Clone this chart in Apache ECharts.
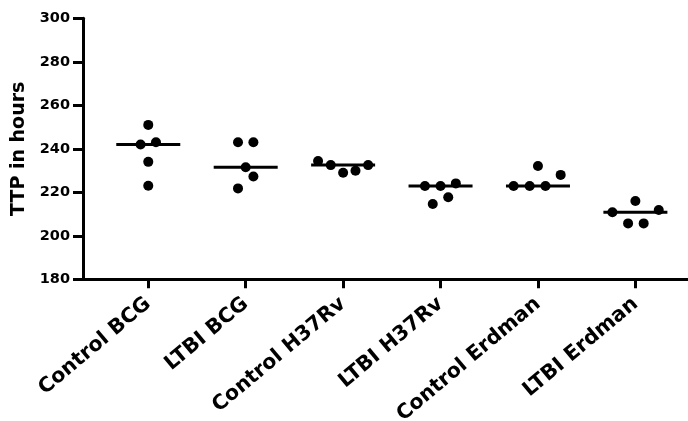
<!DOCTYPE html>
<html><head><meta charset="utf-8">
<script src="https://cdn.jsdelivr.net/npm/echarts@6/dist/echarts.min.js"></script>
<style>html,body{margin:0;padding:0;background:#fff}#c{width:688px;height:421px}</style>
</head><body><div id="c"></div>
<script>
const categories = ['Control BCG', 'LTBI BCG', 'Control H37Rv', 'LTBI H37Rv', 'Control Erdman', 'LTBI Erdman'];
const controlBCG = [251, 242, 243, 234, 223];
const ltbiBCG = [243, 243, 231.5, 227.3, 221.8];
const controlH37Rv = [234.4, 232.5, 229, 229.9, 232.5];
const ltbiH37Rv = [222.9, 222.9, 224.1, 214.6, 217.7];
const controlErdman = [222.9, 222.9, 222.9, 232.1, 228];
const ltbiErdman = [210.8, 216, 211.9, 205.7, 205.7];
const medians = [242, 231.5, 232.5, 222.9, 222.9, 210.8];
const yTicks = [180, 200, 220, 240, 260, 280, 300];
// horizontal scatter of each dot within its column (fraction of a column step)
const jitterControlBCG = [0, -0.079, 0.079, 0, 0];
const jitterLtbiBCG = [-0.079, 0.079, 0, 0.079, -0.079];
const jitterControlH37Rv = [-0.257, -0.127, 0, 0.127, 0.257];
const jitterLtbiH37Rv = [-0.16, 0, 0.157, -0.08, 0.079];
const jitterControlErdman = [-0.25, -0.085, 0.077, 0, 0.233];
const jitterLtbiErdman = [-0.236, 0, 0.24, -0.075, 0.085];

const groups = [controlBCG, ltbiBCG, controlH37Rv, ltbiH37Rv, controlErdman, ltbiErdman];
const jitters = [jitterControlBCG, jitterLtbiBCG, jitterControlH37Rv, jitterLtbiH37Rv, jitterControlErdman, jitterLtbiErdman];
const dots = [];
groups.forEach((vals, i) => vals.forEach((v, j) => dots.push([i + 1 + jitters[i][j], v])));
const medianData = medians.map((m, i) => [i + 1, m]);
const positions = categories.map((_, i) => i + 1);

const font = 'DejaVu Sans';
const chart = echarts.init(document.getElementById('c'), null, {renderer: 'canvas'});
chart.setOption({
  animation: false,
  backgroundColor: '#fff',
  grid: {left: 83, top: 18.3, right: 0, bottom: 141.7, containLabel: false, outerBoundsMode: 'none'},
  xAxis: {
    type: 'value', min: 0.33, max: 6.54,
    axisLine: {show: true, lineStyle: {color: '#000', width: 3}},
    axisTick: {show: true, customValues: positions, length: 9, lineStyle: {color: '#000', width: 3}},
    axisLabel: {
      customValues: positions, rotate: 40, margin: 22,
      formatter: v => categories[Math.round(v) - 1],
      color: '#000', fontFamily: font, fontWeight: 'bold', fontSize: 20.5
    },
    splitLine: {show: false}
  },
  yAxis: {
    type: 'value', min: yTicks[0], max: yTicks[yTicks.length - 1], interval: yTicks[1] - yTicks[0],
    name: 'TTP in hours', nameLocation: 'middle', nameGap: 43,
    nameTextStyle: {color: '#000', fontFamily: font, fontWeight: 'bold', fontSize: 19},
    axisLine: {show: true, lineStyle: {color: '#000', width: 3}},
    axisTick: {show: true, length: 10, lineStyle: {color: '#000', width: 3}},
    axisLabel: {margin: 13, color: '#000', fontFamily: font, fontWeight: 'bold', fontSize: 14.5},
    splitLine: {show: false}
  },
  series: [
    {type: 'scatter', data: medianData, symbol: 'rect', symbolSize: [64, 3],
     itemStyle: {color: '#000', opacity: 1}, z: 2, silent: true},
    {type: 'scatter', data: dots, symbol: 'circle', symbolSize: 10,
     itemStyle: {color: '#000', opacity: 1}, z: 3, silent: true}
  ]
});
</script></body></html>
